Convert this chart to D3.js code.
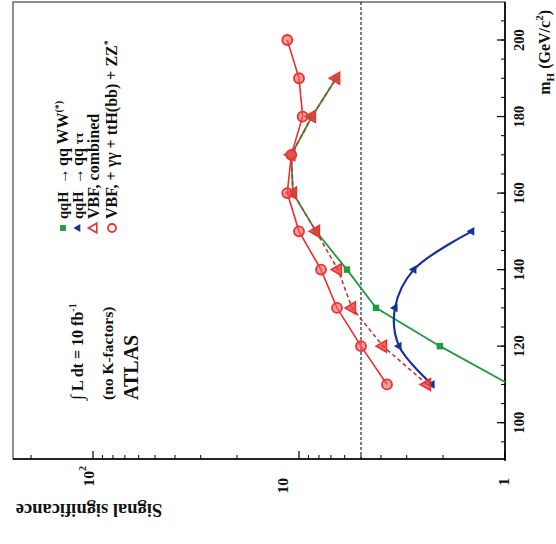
<!DOCTYPE html>
<html><head><meta charset="utf-8">
<script src="https://cdn.jsdelivr.net/npm/d3@7"></script>
<style>body{margin:0;background:#fff}svg{display:block}text{font-family:"Liberation Serif","Times New Roman",serif;font-weight:bold;fill:#111}</style>
</head><body><svg id="c" width="556" height="544"></svg>
<script>
// ---- data ----
const massWW  = [110,120,130,140,150,160,170,180,190];
const sigWW   = [0.95,2.07,4.23,5.85,8.27,10.7,10.9,8.65,6.6];
const massTT  = [110,120,130,140,150];
const sigTT   = [2.26,3.27,3.42,2.77,1.45];
const massVBF = [110,120,130,140,150,160,170,180,190];
const sigVBF  = [2.39,3.91,5.53,6.47,8.27,10.7,10.9,8.65,6.6];
const massAll = [110,120,130,140,150,160,170,180,190,200];
const sigAll  = [3.74,5.0,6.54,7.82,10.0,11.4,10.9,9.6,10.0,11.4];
const massMajor = [100,120,140,160,180,200];
const massMinor = d3.range(95,210,5);
const sigMajor = [1,10,100];
const sigMinor = [2,3,4,5,6,7,8,9,20,30,40,50,60,70,80,90,200];
const sigRef = 5;
const legendLabels = ["qqH → qq WW(*)","qqH → qq ττ","VBF, combined","VBF, + γγ + ttH(bb) + ZZ*"];

// ---- layout (chart rotated 90° counter-clockwise) ----
const L=13, R=505, T=2, B=459;
const yM = d3.scaleLinear().domain([100,200]).range([422.7,40]);
const xS = d3.scaleLog().domain([1,100]).range([505,93]);

const svg = d3.select("#c");
svg.append("defs").append("clipPath").attr("id","clip")
  .append("rect").attr("x",L).attr("y",T).attr("width",R-L).attr("height",B-T);

// frame
svg.append("rect").attr("x",L).attr("y",T).attr("width",R-L).attr("height",B-T)
  .attr("fill","none").attr("stroke","#444").attr("stroke-width",1.2);
svg.append("line").attr("x1",R).attr("x2",R).attr("y1",T).attr("y2",B+2).attr("stroke","#000").attr("stroke-width",1.6);
svg.append("line").attr("x1",L).attr("x2",R).attr("y1",B).attr("y2",B).attr("stroke","#000").attr("stroke-width",1.6);

// m axis ticks (pointing inward / left)
svg.selectAll(".mmin").data(massMinor).join("line")
  .attr("x1",R).attr("x2",R-4).attr("y1",d=>yM(d)).attr("y2",d=>yM(d)).attr("stroke","#000").attr("stroke-width",1);
svg.selectAll(".mmaj").data(massMajor).join("line")
  .attr("x1",R).attr("x2",R-8).attr("y1",d=>yM(d)).attr("y2",d=>yM(d)).attr("stroke","#000").attr("stroke-width",1.2);
svg.selectAll(".mlab").data(massMajor).join("text")
  .attr("transform",d=>`translate(519,${yM(d)}) rotate(-90)`)
  .attr("text-anchor","middle").attr("dominant-baseline","central").attr("font-size",14.5).text(d=>d);

// sig axis ticks (pointing up)
svg.selectAll(".smin").data(sigMinor).join("line")
  .attr("x1",d=>xS(d)).attr("x2",d=>xS(d)).attr("y1",B).attr("y2",B-4).attr("stroke","#000").attr("stroke-width",1);
svg.selectAll(".smaj").data(sigMajor).join("line")
  .attr("x1",d=>xS(d)).attr("x2",d=>xS(d)).attr("y1",B).attr("y2",B-8).attr("stroke","#000").attr("stroke-width",1.2);
const nudge = {1:-2,10:-17,100:-5};
const sl = svg.selectAll(".slab").data(sigMajor).join("text")
  .attr("transform",d=>`translate(${xS(d)+nudge[d]},${d===100?466:478}) rotate(-90)`)
  .attr("text-anchor","end").attr("dominant-baseline","central").attr("font-size",15.5);
sl.each(function(d){
  const t=d3.select(this);
  if(d===100){ t.append("tspan").text("10"); t.append("tspan").attr("font-size",10).attr("dy",-6).text("2"); }
  else t.text(d);
});

// titles
svg.append("text").attr("transform","translate(89,510) rotate(180)")
  .attr("text-anchor","middle").attr("dominant-baseline","central").attr("font-size",18.5).text("Signal significance");
const mt = svg.append("text").attr("transform","translate(550,10) rotate(-90)")
  .attr("text-anchor","end").attr("font-size",16);
mt.append("tspan").text("m");
mt.append("tspan").attr("font-size",11).attr("dy",4).text("H");
mt.append("tspan").attr("dy",-4).text(" (GeV/c");
mt.append("tspan").attr("font-size",11).attr("dy",-7).text("2");
mt.append("tspan").attr("dy",7).text(")");

// reference dashed line
svg.append("line").attr("x1",xS(sigRef)).attr("x2",xS(sigRef)).attr("y1",T).attr("y2",B)
  .attr("stroke","#111").attr("stroke-width",1.1).attr("stroke-dasharray","3,2");

// data
const plot = svg.append("g").attr("clip-path","url(#clip)");
const pts = (ms,ss)=>ms.map((m,i)=>[m,ss[i]]);
const lineLin = d3.line().x(d=>xS(d[1])).y(d=>yM(d[0]));
const lineSm = d3.line().x(d=>xS(d[1])).y(d=>yM(d[0])).curve(d3.curveCatmullRom.alpha(0.5));

const cGreen="#1f9a3e", cBlue="#16329a", cRed="#ec3030";
plot.append("path").attr("d",lineLin(pts(massWW,sigWW))).attr("fill","none").attr("stroke",cGreen).attr("stroke-width",1.8);
plot.append("path").attr("d",lineSm(pts(massTT,sigTT))).attr("fill","none").attr("stroke",cBlue).attr("stroke-width",2.2);
plot.append("path").attr("d",lineLin(pts(massVBF,sigVBF))).attr("fill","none").attr("stroke","#d03030").attr("stroke-width",1.6).attr("stroke-dasharray","4,3");
plot.append("path").attr("d",lineLin(pts(massAll,sigAll))).attr("fill","none").attr("stroke",cRed).attr("stroke-width",1.6);

const sq = d3.symbol().type(d3.symbolSquare).size(42)();
const triB = d3.symbol().type(d3.symbolTriangle).size(34)();
const triR = d3.symbol().type(d3.symbolTriangle).size(60)();

plot.selectAll(".ww").data(pts(massWW,sigWW)).join("path").attr("d",sq)
  .attr("transform",d=>`translate(${xS(d[1])},${yM(d[0])})`).attr("fill",cGreen);
plot.selectAll(".tt").data(pts(massTT,sigTT)).join("path").attr("d",triB)
  .attr("transform",d=>`translate(${xS(d[1])},${yM(d[0])}) rotate(-90)`).attr("fill",cBlue);
plot.selectAll(".vbf").data(pts(massVBF,sigVBF)).join("path").attr("d",triR)
  .attr("transform",d=>`translate(${xS(d[1])},${yM(d[0])}) rotate(-90)`)
  .attr("fill","rgba(235,60,60,0.75)").attr("stroke",cRed).attr("stroke-width",1.6);
plot.selectAll(".all").data(pts(massAll,sigAll)).join("circle")
  .attr("cx",d=>xS(d[1])).attr("cy",d=>yM(d[0])).attr("r",5)
  .attr("fill","rgba(240,90,90,0.6)").attr("stroke",cRed).attr("stroke-width",1.8);

// legend
const legX=[63,78,94,112], legY=228;
svg.append("path").attr("d",d3.symbol().type(d3.symbolSquare).size(34)()).attr("transform",`translate(${legX[0]},${legY})`).attr("fill",cGreen);
svg.append("path").attr("d",d3.symbol().type(d3.symbolTriangle).size(28)()).attr("transform",`translate(${legX[1]},${legY}) rotate(-90)`).attr("fill",cBlue);
svg.append("path").attr("d",d3.symbol().type(d3.symbolTriangle).size(40)()).attr("transform",`translate(${legX[2]},${legY}) rotate(-90)`).attr("fill","none").attr("stroke",cRed).attr("stroke-width",1.6);
svg.append("circle").attr("cx",legX[3]).attr("cy",legY).attr("r",4).attr("fill","none").attr("stroke",cRed).attr("stroke-width",1.8);

const lg = svg.append("g").attr("transform","translate(0,219) rotate(-90)").attr("font-size",16);
function col(parent,x,y,txt){return parent.append("text").attr("x",x).attr("y",y).text(txt);}
const base=[67.5,83,99,117];
[0,1].forEach(i=>{
  const parts = legendLabels[i].split(" → ");
  col(lg,0,base[i],parts[0]).attr("font-size",14.5);
  col(lg,35,base[i],"→");
  const t = lg.append("text").attr("x",53).attr("y",base[i]);
  if(i===0){ t.append("tspan").text("qq WW"); t.append("tspan").attr("font-size",10).attr("dy",-6).text("(*)"); }
  else { t.append("tspan").text("qq "); t.append("tspan").attr("font-size",13).text("ττ"); }
});
col(lg,0,base[2],legendLabels[2]);
const t4 = lg.append("text").attr("x",0).attr("y",base[3]);
t4.append("tspan").text(legendLabels[3].slice(0,-1));
t4.append("tspan").attr("font-size",10).attr("dy",-6).text("*");

// annotation
const an = svg.append("g").attr("transform","translate(0,400) rotate(-90)");
const a1 = an.append("text").attr("x",0).attr("y",83).attr("font-size",16);
a1.append("tspan").attr("font-weight","normal").attr("font-size",18).text("∫");
a1.append("tspan").text(" L dt = 10 fb");
a1.append("tspan").attr("font-size",10).attr("dy",-7).text("-1");
an.append("text").attr("x",0).attr("y",113).attr("font-size",15.5).text("(no K-factors)");
an.append("text").attr("x",0).attr("y",138).attr("font-size",20).text("ATLAS");
</script></body></html>
